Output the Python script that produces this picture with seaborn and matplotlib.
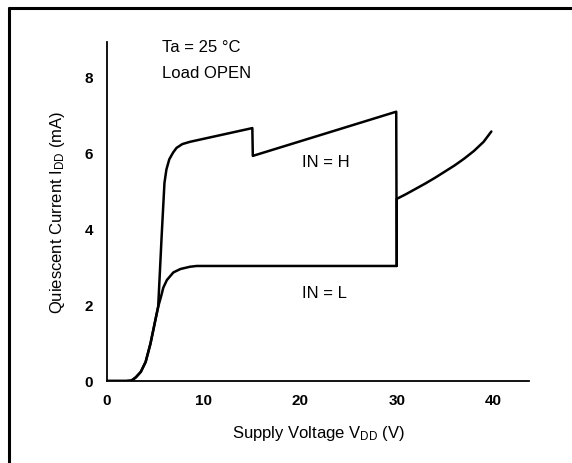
import matplotlib
matplotlib.use("Agg")
import matplotlib.pyplot as plt
import seaborn as sns
import pandas as pd
from matplotlib.lines import Line2D

# ---- data ----
l_x = [0, 1, 2, 2.5, 2.7, 3.0, 3.5, 4.0, 4.5, 5.1, 5.3, 5.6, 5.83, 6.2, 6.87, 7.6, 8.6, 9.3, 10, 15, 20, 25, 30,
       30, 31, 32, 33, 34, 35, 36, 37, 38, 39, 39.8]
l_y = [0, 0, 0, 0.01, 0.04, 0.1, 0.24, 0.5, 0.98, 1.71, 1.95, 2.22, 2.45, 2.65, 2.85, 2.94, 3.0, 3.02, 3.02, 3.02, 3.02, 3.02, 3.02,
       4.78, 4.91, 5.05, 5.19, 5.34, 5.5, 5.66, 5.84, 6.04, 6.28, 6.55]

h_x = [0, 1, 2, 2.5, 2.7, 3.0, 3.5, 4.0, 4.5, 5.1, 5.3, 5.66, 5.95, 6.15, 6.45, 6.85, 7.2, 7.8, 8.6, 13.8, 15.05,
       15.1, 29.95, 30.0]
h_y = [0, 0, 0, 0.01, 0.04, 0.1, 0.24, 0.5, 0.98, 1.71, 1.95, 3.81, 5.2, 5.55, 5.82, 6.0, 6.12, 6.22, 6.28, 6.57, 6.64,
       5.91, 7.07, 3.02]

x_ticks = [0, 10, 20, 30, 40]
y_ticks = [0, 2, 4, 6, 8]

df = pd.concat([
    pd.DataFrame({"V": l_x, "I": l_y, "IN": "L"}),
    pd.DataFrame({"V": h_x, "I": h_y, "IN": "H"}),
], ignore_index=True)

sns.set_style("white")
plt.rcParams["font.family"] = ["Liberation Sans", "DejaVu Sans"]
plt.rcParams["mathtext.default"] = "regular"
plt.rcParams["text.color"] = "black"
plt.rcParams["axes.labelcolor"] = "black"
plt.rcParams["xtick.color"] = "black"
plt.rcParams["ytick.color"] = "black"

fig = plt.figure(figsize=(5.72, 4.64), dpi=100)
ax = fig.add_axes([107 / 572, (464 - 382) / 464, 422 / 572, 339 / 464])

sns.lineplot(data=df, x="V", y="I", units="IN", estimator=None, sort=False,
             color="black", linewidth=1.8, ax=ax, legend=False)

ax.set_xlim(0, 43.7)
ax.set_ylim(0, 8.9)
ax.set_xticks(x_ticks)
ax.set_yticks(y_ticks)
for s in ["top", "right"]:
    ax.spines[s].set_visible(False)
for s in ["left", "bottom"]:
    ax.spines[s].set_color("black")
    ax.spines[s].set_linewidth(1.3)
ax.tick_params(axis="x", direction="in", length=7, width=1.2, pad=9, labelsize=11, colors="black")
ax.tick_params(axis="y", direction="in", length=7, width=1.2, pad=10, labelsize=11, colors="black")
for lab in ax.get_xticklabels() + ax.get_yticklabels():
    lab.set_fontweight("bold")

ax.set_xlabel(r"Supply Voltage V$_{DD}$ (V)", fontsize=12, labelpad=11, color="black")
ax.set_ylabel(r"Quiescent Current I$_{DD}$ (mA)", fontsize=12, labelpad=13, color="black")

ax.text(5.7, 8.79, "Ta = 25 °C", fontsize=12, va="center", ha="left", color="black")
ax.text(5.7, 8.11, "Load OPEN", fontsize=12, va="center", ha="left", color="black")
ax.text(20.2, 5.75, "IN = H", fontsize=12, va="center", ha="left", color="black")
ax.text(20.2, 2.33, "IN = L", fontsize=12, va="center", ha="left", color="black")

# figure frame (top and left edges)
fig.add_artist(Line2D([9 / 572, 9 / 572], [0, 1 - 8.5 / 464], transform=fig.transFigure,
                      color="black", linewidth=2.2))
fig.add_artist(Line2D([9 / 572, 1], [1 - 8.5 / 464, 1 - 8.5 / 464], transform=fig.transFigure,
                      color="black", linewidth=2.2))

fig.savefig("out.png", dpi=100)
